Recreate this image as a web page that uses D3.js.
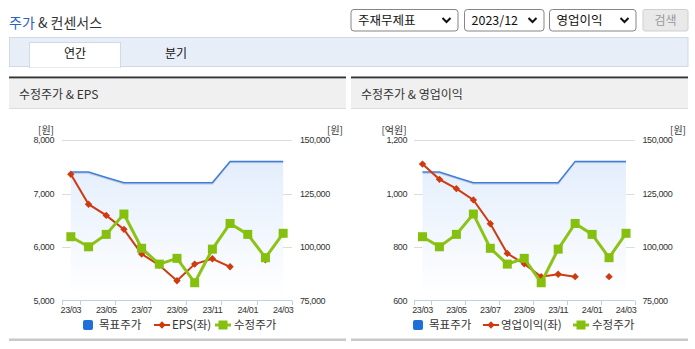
<!DOCTYPE html>
<html><head><meta charset="utf-8">
<script src="https://cdn.jsdelivr.net/npm/d3@7"></script>
<style>
body{margin:0;background:#fff;}
svg{display:block;font-family:"Liberation Sans","Noto Sans CJK KR",sans-serif;}
.kr{font-family:"Noto Sans CJK KR","Liberation Sans",sans-serif;}
</style></head>
<body><svg id="c" width="695" height="349"></svg>
<script>
// ---- data ----
const months = ["23/03","23/04","23/05","23/06","23/07","23/08","23/09","23/10","23/11","23/12","24/01","24/02","24/03"];
const tickLabels = ["23/03","23/05","23/07","23/09","23/11","24/01","24/03"];
const targetPrice = [135000,135000,132500,130000,130000,130000,130000,130000,130000,140000,140000,140000,140000];
const adjPrice = [104800,100100,105900,115400,99400,92000,94700,83300,99000,111000,105900,95000,106400];
const eps = [7360,6800,6590,6330,5870,5660,5370,5680,5780,5630,null,5760,null];
const opIncome = [1110,1053,1018,976,887,776,737,689,698,689,null,689,null];
const epsTicks = [5000,6000,7000,8000];
const opTicks = [600,800,1000,1200];
const priceTicks = [75000,100000,125000,150000];
const selects = ["주재무제표","2023/12","영업이익"];

const svg = d3.select("#c");
const defs = svg.append("defs");
const grad = defs.append("linearGradient").attr("id","ag").attr("x1",0).attr("y1",0).attr("x2",0).attr("y2",1);
grad.append("stop").attr("offset","0%").attr("stop-color","#e3eefc");
grad.append("stop").attr("offset","100%").attr("stop-color","#ffffff");

// ---- page header ----
const title = svg.append("text").attr("class","kr").attr("x",9).attr("y",27.5).attr("font-size",14);
title.append("tspan").attr("fill","#2a62c0").text("주가");
title.append("tspan").attr("fill","#333").text(" & 컨센서스");

const selX = [[351,458],[464.5,544],[549.5,636]];
selects.forEach((s,i)=>{
  const [a,b]=selX[i];
  svg.append("rect").attr("x",a).attr("y",9.5).attr("width",b-a).attr("height",21.5).attr("rx",3)
    .attr("fill","#fff").attr("stroke","#858585");
  svg.append("text").attr("class","kr").attr("x",a+7).attr("y",25).attr("font-size",12.5).attr("fill","#111").text(s);
  const cx=b-11.5, cy=20;
  svg.append("path").attr("d",`M${cx-4},${cy-2}L${cx},${cy+2}L${cx+4},${cy-2}`)
    .attr("fill","none").attr("stroke","#111").attr("stroke-width",2);
});
svg.append("rect").attr("x",643).attr("y",9.5).attr("width",45).attr("height",21.5).attr("rx",2)
  .attr("fill","#e9e9e9").attr("stroke","#cfcfcf");
svg.append("text").attr("class","kr").attr("x",665.5).attr("y",25).attr("text-anchor","middle")
  .attr("font-size",12).attr("fill","#999").text("검색");

// tabs
svg.append("rect").attr("x",9.5).attr("y",37.5).attr("width",678.5).attr("height",29)
  .attr("fill","#e8eef8").attr("stroke","#cfd9e8");
svg.append("rect").attr("x",29.5).attr("y",42.5).attr("width",91).attr("height",25)
  .attr("fill","#fff").attr("stroke","#cfd9e8");
svg.append("rect").attr("x",30).attr("y",65.5).attr("width",90).attr("height",2).attr("fill","#fff");
svg.append("text").attr("class","kr").attr("x",75).attr("y",58).attr("text-anchor","middle").attr("font-size",12).attr("fill","#111").text("연간");
svg.append("text").attr("class","kr").attr("x",176).attr("y",58).attr("text-anchor","middle").attr("font-size",12).attr("fill","#111").text("분기");

// ---- charts ----
function drawChart(cfg){
  const g = svg.append("g");
  const px = cfg.px;
  g.append("rect").attr("x",px).attr("y",76.5).attr("width",337).attr("height",2.2).attr("fill","#333");
  g.append("rect").attr("x",px).attr("y",78.5).attr("width",337).attr("height",30).attr("fill","#f0f0f0");
  g.append("rect").attr("x",px).attr("y",108).attr("width",337).attr("height",1).attr("fill","#dcdcdc");
  g.append("text").attr("class","kr").attr("x",px+10).attr("y",99).attr("font-size",12).attr("fill","#333").text(cfg.title);
  g.append("rect").attr("x",px).attr("y",338.5).attr("width",337).attr("height",2.5).attr("fill","#c9c9c9");

  const x = d3.scaleBand().domain(months).range(cfg.xr).padding(0);
  const cx = d => x(d)+x.bandwidth()/2;
  const yL = d3.scaleLinear().domain(d3.extent(cfg.leftTicks)).range([300.5,140]);
  const yR = d3.scaleLinear().domain(d3.extent(priceTicks)).range([300.5,140]);

  // grid
  cfg.leftTicks.slice(1).forEach(t=>{
    g.append("line").attr("x1",cfg.xr[0]).attr("x2",cfg.xr[1]).attr("y1",Math.round(yL(t))+0.5).attr("y2",Math.round(yL(t))+0.5)
      .attr("stroke","#dcdcdc");
  });

  // y axes
  const fmt = d3.format(",");
  const al = g.append("g").attr("transform",`translate(${cfg.xr[0]},0)`)
    .call(d3.axisLeft(yL).tickValues(cfg.leftTicks).tickSize(0).tickPadding(cfg.padL).tickFormat(fmt));
  const ar = g.append("g").attr("transform",`translate(${cfg.xr[1]},0)`)
    .call(d3.axisRight(yR).tickValues(priceTicks).tickSize(0).tickPadding(8).tickFormat(fmt));
  [al,ar].forEach(a=>{a.select(".domain").remove();
    a.selectAll("text").attr("font-size",9).attr("fill","#333").attr("letter-spacing","-0.4px").attr("font-family","Liberation Sans");});

  g.append("text").attr("class","kr").attr("x",cfg.unitLX).attr("y",133.5).attr("text-anchor","middle").attr("font-size",10).attr("fill","#333").text(cfg.leftUnit);
  g.append("text").attr("class","kr").attr("x",cfg.unitRX).attr("y",133.5).attr("text-anchor","middle").attr("font-size",10).attr("fill","#333").text("[원]");

  // x axis
  g.append("line").attr("x1",cfg.xr[0]).attr("x2",cfg.xr[1]).attr("y1",300.5).attr("y2",300.5).attr("stroke","#bcd0e6");
  const tickIdx=[0,1,3,5,7,9,11,13];
  tickIdx.forEach(i=>{
    const xx = Math.round(i<13? x(months[i]) : cfg.xr[1])+0.5;
    g.append("line").attr("x1",xx).attr("x2",xx).attr("y1",300.5).attr("y2",305).attr("stroke","#bcd0e6");
  });
  const ax = g.append("g").attr("transform","translate(0,300.5)")
    .call(d3.axisBottom(x).tickValues(tickLabels).tickSize(0).tickPadding(6.5));
  ax.select(".domain").remove();
  ax.selectAll("text").attr("font-size",9).attr("fill","#333").attr("letter-spacing","-0.4px").attr("font-family","Liberation Sans");

  // target area + line
  const idx = months.map((m,i)=>i);
  const area = d3.area().x(i=>cx(months[i])).y0(yR(77000)).y1(i=>yR(targetPrice[i]));
  g.append("path").attr("d",area(idx)).attr("fill","url(#ag)");
  const tl = d3.line().x(i=>cx(months[i])).y(i=>yR(targetPrice[i]));
  g.append("path").attr("d",tl(idx)).attr("transform","translate(0,1.2)").attr("fill","none").attr("stroke","#000").attr("stroke-opacity",0.12).attr("stroke-width",1.5);
  g.append("path").attr("d",tl(idx)).attr("fill","none").attr("stroke","#3d7ddb").attr("stroke-width",1.5);

  // left series (red)
  const ls = cfg.left;
  const rl = d3.line().defined(i=>ls[i]!=null).x(i=>cx(months[i])).y(i=>yL(ls[i]));
  g.append("path").attr("d",rl(idx)).attr("fill","none").attr("stroke","#cf3a0e").attr("stroke-width",2);
  idx.filter(i=>ls[i]!=null).forEach(i=>{
    g.append("rect").attr("x",-2.6).attr("y",-2.6).attr("width",5.2).attr("height",5.2).attr("fill","#cf3a0e")
      .attr("transform",`translate(${cx(months[i])},${yL(ls[i])}) rotate(45)`);
  });

  // adjusted price (green)
  const gl = d3.line().x(i=>cx(months[i])).y(i=>yR(adjPrice[i]));
  g.append("path").attr("d",gl(idx)).attr("fill","none").attr("stroke","#8cc316").attr("stroke-width",3).attr("stroke-linejoin","round");
  idx.forEach(i=>{
    g.append("rect").attr("x",cx(months[i])-4.5).attr("y",yR(adjPrice[i])-4.5).attr("width",9).attr("height",9).attr("fill","#86c00e");
  });

  // legend
  const L = cfg.leg;
  const ly = 325;
  const fs = 11.5;
  g.append("rect").attr("x",L.sq).attr("y",ly-5).attr("width",10).attr("height",10).attr("rx",2).attr("fill","#1f6fd8");
  g.append("text").attr("class","kr").attr("x",L.sq+16).attr("y",ly+4.2).attr("font-size",fs).attr("fill","#333").text("목표주가");
  g.append("line").attr("x1",L.red-8).attr("x2",L.red+8).attr("y1",ly).attr("y2",ly).attr("stroke","#cf3a0e").attr("stroke-width",2);
  g.append("rect").attr("x",-2.6).attr("y",-2.6).attr("width",5.2).attr("height",5.2).attr("fill","#cf3a0e")
    .attr("transform",`translate(${L.red},${ly}) rotate(45)`);
  g.append("text").attr("class","kr").attr("x",L.red+10).attr("y",ly+4.2).attr("font-size",fs).attr("fill","#333").text(cfg.leftName);
  g.append("line").attr("x1",L.grn-8).attr("x2",L.grn+8).attr("y1",ly).attr("y2",ly).attr("stroke","#8cc316").attr("stroke-width",3);
  g.append("rect").attr("x",L.grn-4.5).attr("y",ly-4.5).attr("width",9).attr("height",9).attr("fill","#86c00e");
  g.append("text").attr("class","kr").attr("x",L.grn+11).attr("y",ly+4.2).attr("font-size",fs).attr("fill","#333").text("수정주가");
}

drawChart({px:9, title:"수정주가 & EPS", xr:[62,292], leftTicks:epsTicks, left:eps, padL:8,
  leftUnit:"[원]", unitLX:46, unitRX:335, leftName:"EPS(좌)", leg:{sq:83, red:162, grn:223}});
drawChart({px:351, title:"수정주가 & 영업이익", xr:[414,634.5], leftTicks:opTicks, left:opIncome, padL:7,
  leftUnit:"[억원]", unitLX:394, unitRX:678, leftName:"영업이익(좌)", leg:{sq:413, red:491, grn:581}});
</script></body></html>
